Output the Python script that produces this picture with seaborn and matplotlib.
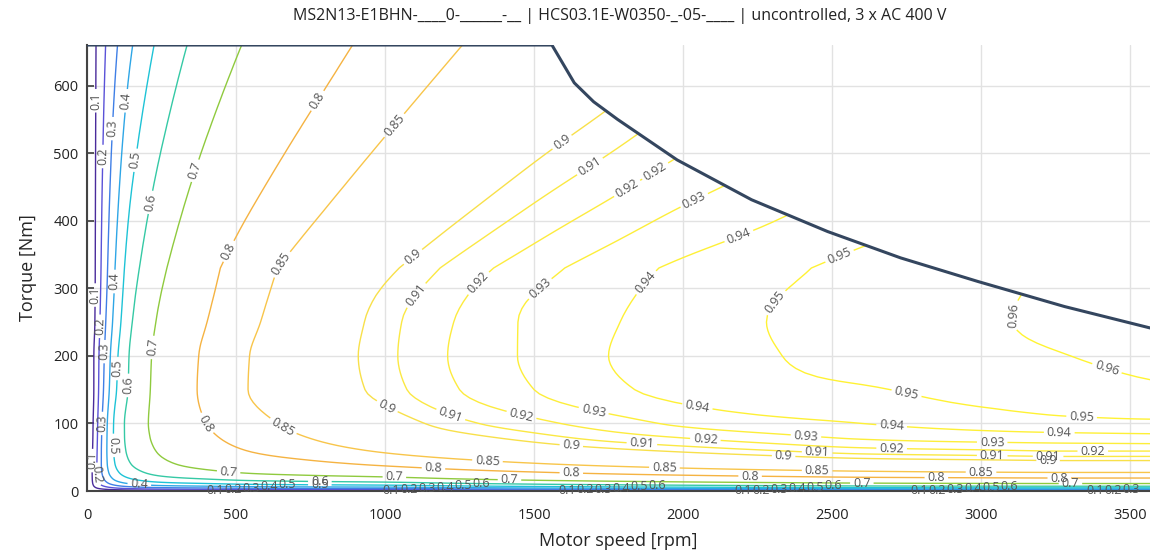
import matplotlib
matplotlib.use("Agg")
import matplotlib.pyplot as plt
from matplotlib.patches import Polygon
from matplotlib.path import Path
import numpy as np
import pandas as pd
import seaborn as sns

title = "MS2N13-E1BHN-____0-______-__ | HCS03.1E-W0350-_-05-____ | uncontrolled, 3 x AC 400 V"

# efficiency map (rows = torque, columns = speed)
speed_rpm = [0, 25, 50, 100, 150, 250, 400, 550, 750, 1000, 1250, 1500, 1750, 2000, 2300, 2600, 3000, 3300, 3600]
torque_nm = [0, 1.5, 3, 5, 8, 12, 18, 27, 40, 60, 80, 100, 150, 200, 250, 330, 660]
efficiency = [
    [0, 0, 0, 0, 0, 0, 0, 0, 0, 0, 0, 0, 0, 0, 0, 0, 0, 0, 0],
    [0, .035, .055, .083, .100, .118, .127, .137, .144, .148, .167, .183, .197, .209, .221, .232, .239, .241, .241],
    [0, .062, .100, .150, .178, .209, .224, .240, .250, .258, .285, .309, .329, .345, .362, .376, .385, .388, .388],
    [0, .088, .147, .221, .260, .301, .321, .343, .356, .366, .399, .427, .449, .467, .486, .501, .511, .514, .514],
    [0, .113, .197, .298, .349, .399, .425, .450, .466, .479, .514, .542, .565, .583, .601, .616, .625, .628, .628],
    [0, .131, .240, .368, .427, .486, .517, .545, .562, .578, .612, .639, .659, .676, .692, .705, .713, .716, .716],
    [0, .142, .275, .431, .501, .566, .603, .632, .651, .670, .701, .724, .742, .756, .770, .781, .787, .790, .790],
    [0, .147, .301, .483, .561, .632, .676, .706, .727, .749, .775, .794, .809, .821, .832, .840, .846, .848, .848],
    [0, .145, .312, .517, .603, .680, .731, .761, .785, .810, .831, .847, .859, .868, .877, .884, .888, .890, .890],
    [0, .139, .312, .535, .629, .712, .770, .803, .829, .856, .874, .887, .896, .903, .910, .916, .919, .921, .921],
    [0, .132, .307, .539, .639, .726, .789, .823, .852, .880, .895, .906, .915, .921, .927, .932, .935, .936, .937],
    [0, .127, .300, .538, .641, .732, .800, .835, .865, .890, .907, .917, .925, .932, .937, .940, .944, .947, .948],
    [0, .112, .272, .503, .622, .732, .812, .852, .883, .905, .920, .930, .938, .943, .947, .949, .954, .957, .959],
    [0, .111, .259, .488, .617, .728, .810, .851, .884, .907, .922, .932, .940, .945, .9495, .954, .958, .960, .962],
    [0, .094, .238, .454, .597, .716, .799, .843, .879, .906, .921, .932, .939, .945, .9503, .954, .959, .9615, .9635],
    [0, .089, .215, .421, .558, .685, .781, .831, .868, .896, .914, .926, .935, .942, .9475, .953, .958, .960, .962],
    [0, .083, .165, .295, .395, .527, .642, .712, .771, .818, .849, .871, .886, .899, .911, .921, .930, .936, .941],
]

levels = [0.1, 0.2, 0.3, 0.4, 0.5, 0.6, 0.7, 0.8, 0.85, 0.9, 0.91, 0.92, 0.93, 0.94, 0.95, 0.96]
level_colors = ['#4a2b9b', '#5a52d8', '#3f7fe6', '#2ea6e6', '#1ec3d6', '#35c9a5', '#8fca3e', '#f5b342',
                '#f8c54a', '#f8e04a', '#fbe843', '#fdeb3e', '#fdee3a', '#fef036', '#fff234', '#fff432']

# torque limit curve
limit_speed = [0, 1560, 1635, 1700, 1780, 1980, 2230, 2485, 2730, 2990, 3280, 3570]
limit_torque = [660, 660, 604, 576, 550, 490, 431, 384, 345, 310, 273, 241]


def pchip(xk, yk, x):
    # monotone cubic (Fritsch-Carlson), no overshoot between table values
    xk = np.asarray(xk, float)
    yk = np.asarray(yk, float)
    h = np.diff(xk)
    m = np.diff(yk) / h
    d = np.zeros_like(yk)
    w1 = 2 * h[1:] + h[:-1]
    w2 = h[1:] + 2 * h[:-1]
    ok = m[:-1] * m[1:] > 0
    d[1:-1][ok] = (w1 + w2)[ok] / (w1[ok] / m[:-1][ok] + w2[ok] / m[1:][ok])

    def edge(h0, h1, m0, m1):
        e = ((2 * h0 + h1) * m0 - h0 * m1) / (h0 + h1)
        if np.sign(e) != np.sign(m0):
            e = 0.0
        elif np.sign(m0) != np.sign(m1) and abs(e) > 3 * abs(m0):
            e = 3 * m0
        return e

    d[0] = edge(h[0], h[1], m[0], m[1])
    d[-1] = edge(h[-1], h[-2], m[-1], m[-2])
    i = np.clip(np.searchsorted(xk, x, side='right') - 1, 0, len(h) - 1)
    t = (x - xk[i]) / h[i]
    return (yk[i] * (1 + 2 * t) * (1 - t) ** 2 + h[i] * d[i] * t * (1 - t) ** 2
            + yk[i + 1] * t ** 2 * (3 - 2 * t) + h[i] * d[i + 1] * t ** 2 * (t - 1))


def subdivide(v, n):
    v = np.asarray(v, float)
    return np.concatenate([np.linspace(a, b, n, endpoint=False) for a, b in zip(v[:-1], v[1:])] + [v[-1:]])


sns.set_theme(style="whitegrid")
plt.rcParams['font.family'] = ['Open Sans', 'DejaVu Sans']

fig = plt.figure(figsize=(11.5, 5.53), dpi=100)
ax = fig.add_axes([0.0757, 0.1121, 0.9243, 0.8065])
ax.set_xlim(0, 3567)
ax.set_ylim(0, 660)

eff = pd.DataFrame(efficiency, index=torque_nm, columns=speed_rpm)
sp = eff.columns.values.astype(float)
tq = eff.index.values.astype(float)
sp_fine = subdivide(sp, 8)
tq_fine = subdivide(tq, 8)
along_speed = np.array([pchip(sp, row, sp_fine) for row in eff.values])
upper = tq_fine > tq[-2]   # top band is a straight blend, as in the original
z_fine = np.empty((len(tq_fine), len(sp_fine)))
for c in range(len(sp_fine)):
    z_fine[~upper, c] = pchip(tq[:-1], along_speed[:-1, c], tq_fine[~upper])
    z_fine[upper, c] = np.interp(tq_fine[upper], tq[-2:], along_speed[-2:, c])

cs = ax.contour(sp_fine, tq_fine, z_fine, levels=levels, colors=level_colors, linewidths=1.0, zorder=2)

# only show the map below the limit curve
verts = list(zip(limit_speed, limit_torque)) + [(limit_speed[-1], 0), (0, 0)]
inside = Path(verts)

# labels repeated along every line, like the original
left_px, bottom_px = ax.transData.transform((0, 0))
right_px = ax.transData.transform((3567, 0))[0]
to_data = ax.transData.inverted()
band_h = 9
label_kw = dict(fontsize=9, color='#555555', ha='center', va='center', zorder=4)
placed = []


def free(q):
    return all(abs(q[0] - p[0]) > 28 or abs(q[1] - p[1]) > 13 for p in placed)


def well_inside(q):
    # keep labels clear of the limit curve
    return all(inside.contains_point(to_data.transform((max(q[0] + dx, left_px + 1), q[1] + dy)))
               for dx, dy in ((0, 0), (0, 12), (-12, 9), (12, 9)))


# the bunched labels of the lowest lines along the bottom edge
for k, level_path in enumerate(cs.get_paths()[:6]):
    for seg in level_path.to_polygons(closed_only=False):
        pix = ax.transData.transform(seg)
        in_band = (pix[:, 1] - bottom_px < band_h) & (pix[:, 0] - left_px > 60)
        if in_band.sum() < 2:
            continue
        order = np.argsort(pix[in_band, 0])
        bx, by = pix[in_band, 0][order], seg[in_band, 1][order]
        for m in range(6):
            target = left_px + 128 + 176 * m + 18 * k
            if target > right_px - 12 or target < bx[0] or target > bx[-1]:
                continue
            x_data = to_data.transform((target, bottom_px))[0]
            ax.text(x_data, np.interp(target, bx, by), f'{levels[k]:g}', **label_kw)
            placed.append((target, bottom_px))

label_xy = []
for k, level_path in enumerate(cs.get_paths()):
    start = 45 + 14 * k if k < 7 else 45 + ((k - 7) * 53) % 185
    for seg in level_path.to_polygons(closed_only=False):
        if len(seg) < 3:
            continue
        pix = ax.transData.transform(seg)
        dist = np.concatenate([[0], np.cumsum(np.hypot(np.diff(pix[:, 0]), np.diff(pix[:, 1])))])
        in_band = (pix[:, 1] - bottom_px < band_h) & (pix[:, 0] - left_px > 60)
        for s in np.arange(start, dist[-1] - 25, 185):
            fallback, chosen = None, None
            for off in (0, 35, -35, 70, -70, 105, -105, 140):
                if not 12 < s + off < dist[-1] - 12:
                    continue
                j = np.searchsorted(dist, s + off)
                if (k < 6 and in_band[j]) or pix[j, 0] > right_px - 16 or not well_inside(pix[j]):
                    continue
                if fallback is None:
                    fallback = j
                if free(pix[j]):
                    chosen = j
                    break
            j = chosen if chosen is not None else fallback
            if j is not None:
                placed.append(pix[j])
                label_xy.append((seg[j][0], seg[j][1]))
texts = ax.clabel(cs, manual=label_xy, fmt='%g', fontsize=9, colors='#555555', inline=True, inline_spacing=3)

region = Polygon(verts, closed=True, transform=ax.transData, facecolor='none', edgecolor='none')
ax.add_patch(region)
cs.set_clip_path(region)
for t in texts:
    t.set_clip_path(region)
    t.set_zorder(4)

limit = pd.DataFrame({'speed': limit_speed, 'torque': limit_torque})
sns.lineplot(data=limit, x='speed', y='torque', color='#34465f', linewidth=2.2, sort=False, ax=ax, zorder=3)

ax.set_xlim(0, 3567)
ax.set_ylim(0, 660)
ax.set_xticks(range(0, 3501, 500))
ax.set_yticks(range(0, 601, 100))
ax.grid(True, color='#e2e2e2', linewidth=1)
for side in ['top', 'right']:
    ax.spines[side].set_visible(False)
for side in ['left', 'bottom']:
    ax.spines[side].set_color('#444444')
    ax.spines[side].set_linewidth(1.5)
ax.tick_params(axis='both', labelsize=10.5, labelcolor='#222222', pad=6)
ax.tick_params(axis='y', direction='in', length=5, color='#444444', left=True)
ax.set_xlabel('Motor speed [rpm]', fontsize=13, labelpad=7)
ax.set_ylabel('Torque [Nm]', fontsize=13, labelpad=12)
fig.text(0.539, 0.971, title, ha='center', va='center', fontsize=11.5, color='#222222')

fig.savefig('out.png', dpi=100)
